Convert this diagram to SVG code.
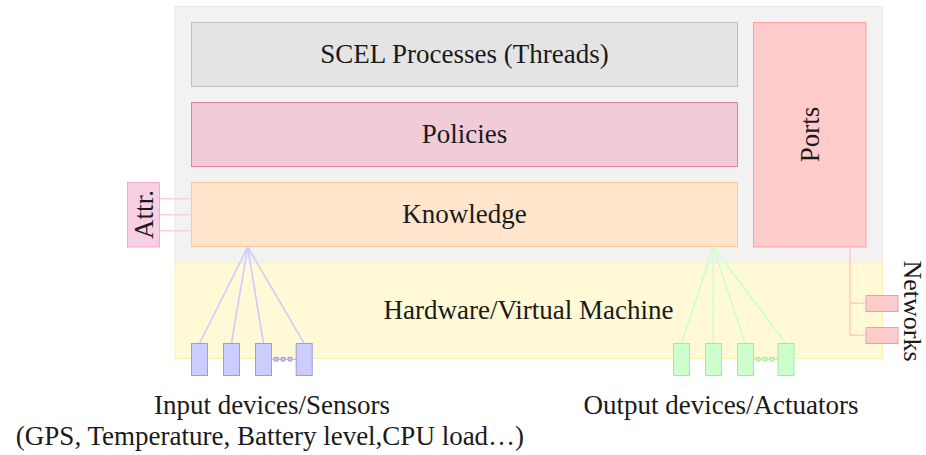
<svg xmlns="http://www.w3.org/2000/svg" width="926" height="455" viewBox="0 0 926 455" font-family="'Liberation Serif','Times New Roman',serif">
<style>
text{font-family:"Liberation Serif","Times New Roman",serif;font-size:27px;fill:#1a1a1a;text-anchor:middle}
.in{fill:#ccccff;stroke:#9999ee}
.out{fill:#ccffcc;stroke:#99ee99}
.net{fill:#ffcccc;stroke:#ff9999}
.lin{stroke:#ccccff;stroke-width:1.6;fill:none}
.lout{stroke:#ccffcc;stroke-width:1.6;fill:none}
.lnet{stroke:#ffcccc;stroke-width:1.6;fill:none}
.lattr{stroke:#f8d0e3;stroke-width:1.6;fill:none}
</style>
<rect width="926" height="455" fill="#ffffff"/>
<g id="node">
<rect x="175" y="6.5" width="707.5" height="256.5" fill="#f2f2f2" stroke="#e6e6e6"/>
</g>
<g id="hardware">
<rect x="175" y="263" width="707.5" height="95.5" fill="#fff9d6" stroke="#fff2b3"/>
<text x="528.5" y="319">Hardware/Virtual Machine</text>
</g>
<g id="scel">
<rect x="191.5" y="22.5" width="546" height="64" fill="#e4e4e4" stroke="#bfbfbf"/>
<text x="464.5" y="63">SCEL Processes (Threads)</text>
</g>
<g id="policies">
<rect x="191.5" y="102.5" width="546" height="64" fill="#f2cbd9" stroke="#e5819f"/>
<text x="464.5" y="143">Policies</text>
</g>
<g id="knowledge">
<rect x="191.5" y="182.5" width="546" height="64" fill="#fee5cc" stroke="#fbcb97"/>
<text x="464.5" y="223">Knowledge</text>
</g>
<g id="ports">
<rect x="753.5" y="22.5" width="112.5" height="224.5" fill="#ffcccc" stroke="#ff9f9f"/>
<text transform="translate(819,134.5) rotate(-90)">Ports</text>
</g>
<g id="attr">
<rect x="127.5" y="182.5" width="32" height="64.5" fill="#f8d0e3" stroke="#f3a9cb"/>
<text transform="translate(152.5,214.5) rotate(-90)">Attr.</text>
</g>
<g id="networks">
<rect x="866" y="295.5" width="32" height="16" class="net"/>
<rect x="866" y="327.5" width="32" height="16" class="net"/>
<text transform="translate(903.5,311) rotate(90)" style="font-size:26px">Networks</text>
</g>
<g id="connectors">
<path class="lattr" d="M160 198.7H191.5M160 214.7H191.5M160 230.7H191.5"/>
<path class="lin" d="M247.7 247L199.5 343.5M247.7 247L231.5 343.5M247.7 247L263.5 343.5M247.7 247L304.2 343.5"/>
<path class="lout" d="M713.3 247L681.3 343.5M713.3 247L713.3 343.5M713.3 247L745.3 343.5M713.3 247L786 343.5"/>
<path class="lnet" d="M850 247V335.3M850 303.3H866M850 335.3H866"/>
<path d="M271.5 359.3H296" stroke="#9999ee" stroke-width="0.8"/>
<path d="M753.5 359.3H778" stroke="#99ee99" stroke-width="0.8"/>
</g>
<g id="inputs">
<rect x="191.5" y="343.5" width="16" height="32" class="in"/>
<rect x="223.5" y="343.5" width="16" height="32" class="in"/>
<rect x="255.5" y="343.5" width="16" height="32" class="in"/>
<rect x="296.2" y="343.5" width="16" height="32" class="in"/>
<rect x="274.5" y="357.5" width="3.5" height="3.5" class="in"/>
<rect x="281.2" y="357.5" width="3.5" height="3.5" class="in"/>
<rect x="288.2" y="357.5" width="3.5" height="3.5" class="in"/>
<text x="272" y="414">Input devices/Sensors</text>
<text x="270" y="445">(GPS, Temperature, Battery level,CPU load…)</text>
</g>
<g id="outputs">
<rect x="673.5" y="343.5" width="16" height="32" class="out"/>
<rect x="705.5" y="343.5" width="16" height="32" class="out"/>
<rect x="737.5" y="343.5" width="16" height="32" class="out"/>
<rect x="778" y="343.5" width="16" height="32" class="out"/>
<rect x="756.5" y="357.5" width="3.5" height="3.5" class="out"/>
<rect x="763.2" y="357.5" width="3.5" height="3.5" class="out"/>
<rect x="770.2" y="357.5" width="3.5" height="3.5" class="out"/>
<text x="721" y="414">Output devices/Actuators</text>
</g>
</svg>
